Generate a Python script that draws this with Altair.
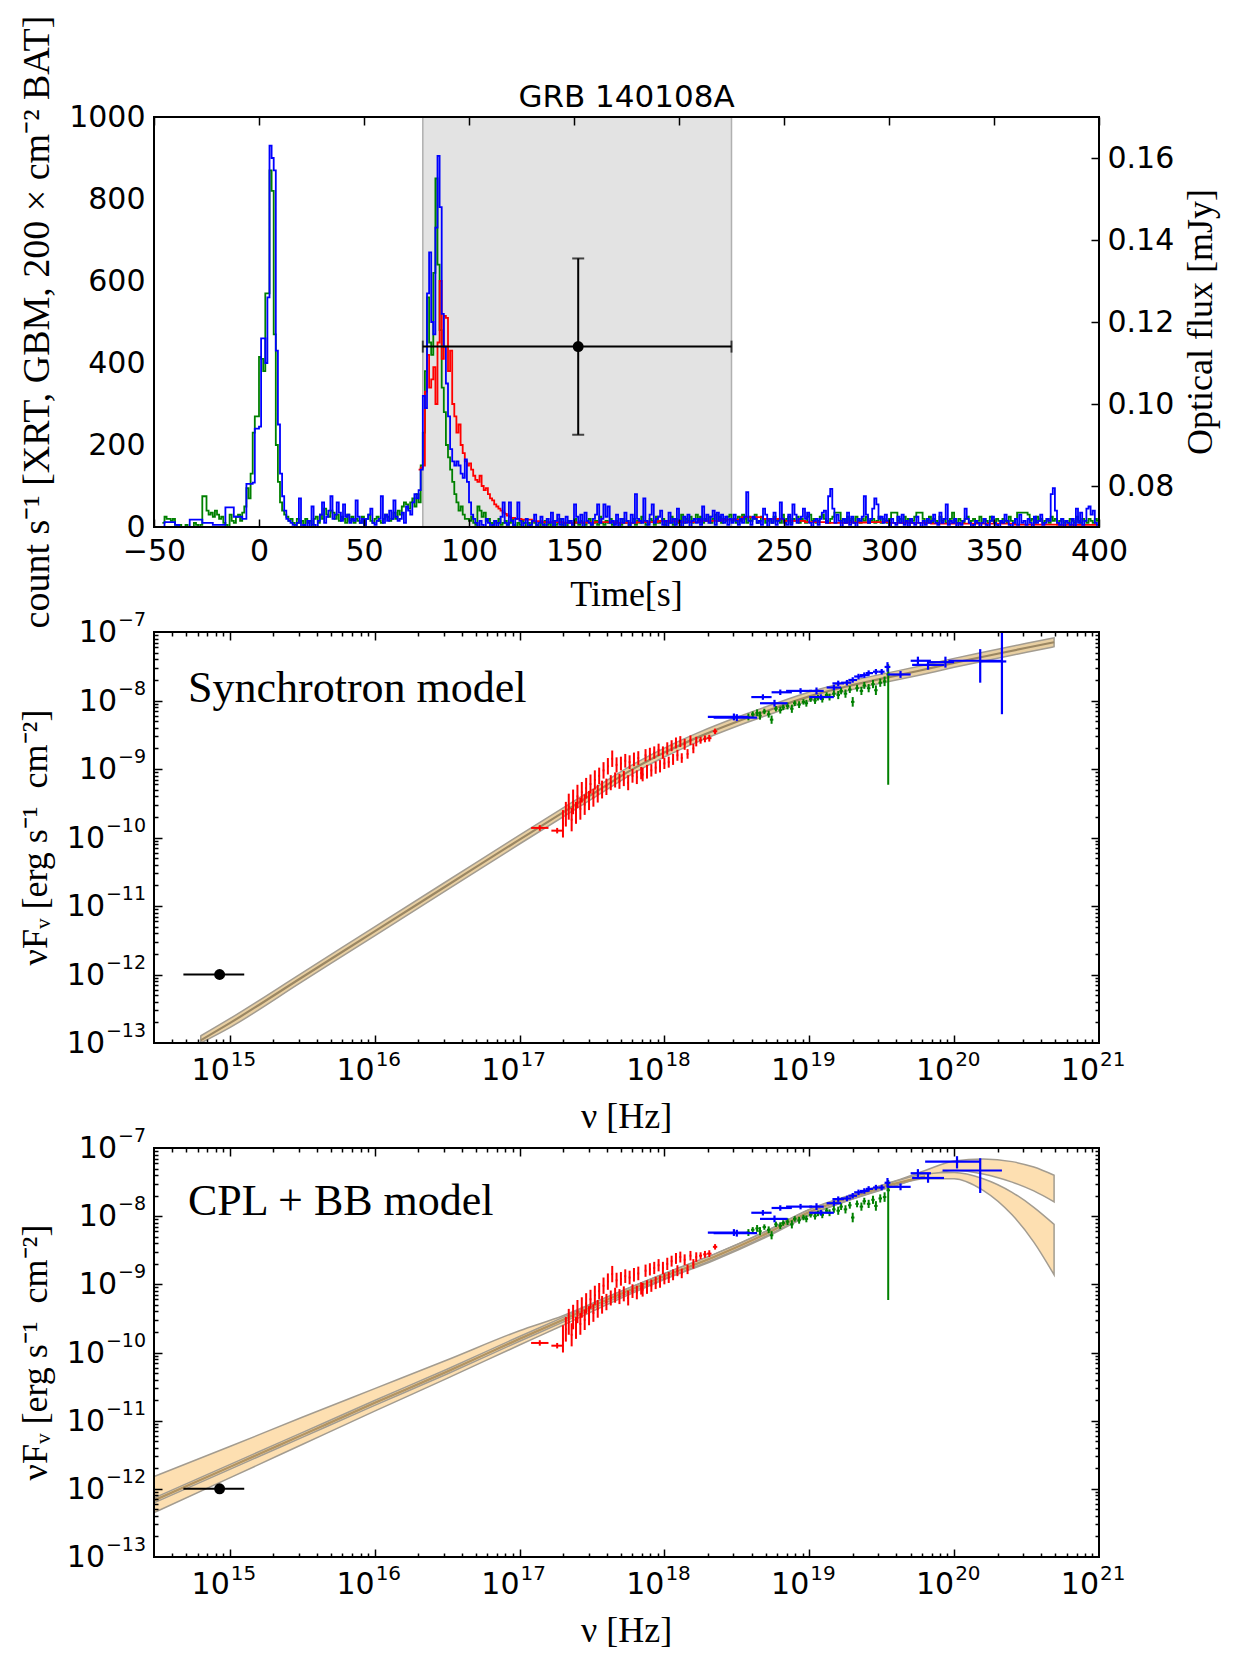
import altair as alt
import numpy as np
import pandas as pd

# ------------------------------------------------------------------
# Light curves of GRB 140108A (1 s bins, first bin starts at t = -46 s)
# ------------------------------------------------------------------
BIN0 = -46

bat_counts = [
    0, 12, 12, 12, 12, 12, 5, 5, 0, 0,
    0, 0, 0, 18, 18, 18, 18, 18, 18, 10,
    10, 10, 10, 10, 5, 5, 5, 5, 5, 5,
    48, 48, 48, 48, 25, 25, 25, 25, 20, 20,
    105, 105, 105, 108, 240, 240, 245, 460, 460, 400,
    560, 930, 900, 870, 430, 250, 130, 75, 40, 20,
    15, 10, 5, 0, 10, 70, 0, 5, 0, 15,
    0, 50, 5, 0, 15, 30, 60, 10, 25, 40,
    75, 20, 30, 60, 35, 15, 55, 25, 30, 10,
    20, 15, 65, 25, 10, 20, 5, 20, 30, 45,
    10, 5, 15, 20, 75, 10, 30, 15, 40, 20,
    65, 25, 15, 20, 35, 10, 50, 40, 30, 60,
    80, 70, 90, 140, 320, 290, 570, 670, 500, 470,
    730, 905, 780, 520, 440, 350, 270, 190, 160, 150,
    160, 150, 130, 120, 165, 110, 60, 30, 20, 10,
    0, 15, 5, 0, 20, 10, 0, 5, 15, 0,
    10, 25, 60, 10, 5, 60, 15, 0, 20, 60,
    15, 0, 10, 20, 0, 5, 15, 30, 0, 10,
    25, 5, 0, 20, 10, 35, 0, 15, 30, 5,
    20, 0, 25, 10, 15, 5, 55, 25, 10, 30,
    0, 35, 15, 10, 5, 20, 30, 55, 10, 20,
    55, 25, 50, 10, 15, 5, 30, 0, 20, 10,
    35, 15, 0, 30, 10, 80, 20, 15, 10, 70,
    15, 5, 30, 55, 10, 20, 25, 40, 5, 15,
    0, 35, 10, 20, 5, 45, 15, 0, 25, 10,
    30, 0, 15, 20, 10, 20, 5, 50, 15, 30,
    10, 25, 40, 5, 35, 15, 30, 10, 25, 5,
    20, 10, 30, 15, 5, 20, 10, 25, 85, 15,
    5, 25, 20, 10, 15, 5, 45, 30, 0, 20,
    10, 35, 5, 15, 60, 20, 10, 5, 30, 5,
    55, 30, 10, 20, 25, 45, 20, 35, 10, 0,
    15, 20, 5, 20, 35, 40, 10, 75, 93, 45,
    10, 30, 15, 0, 20, 10, 35, 5, 25, 10,
    0, 20, 15, 25, 75, 30, 10, 20, 45, 70,
    55, 20, 25, 10, 30, 15, 0, 20, 10, 5,
    25, 10, 30, 5, 15, 0, 20, 10, 5, 25,
    10, 0, 15, 5, 20, 10, 15, 30, 10, 5,
    35, 10, 20, 55, 5, 15, 10, 20, 0, 10,
    5, 15, 45, 20, 10, 0, 5, 15, 10, 0,
    10, 20, 5, 0, 15, 25, 10, 5, 0, 15,
    10, 30, 15, 5, 0, 10, 20, 5, 30, 10,
    15, 5, 20, 10, 0, 25, 10, 15, 30, 5,
    10, 20, 15, 80, 95, 40, 10, 5, 20, 0,
    15, 10, 5, 20, 0, 45, 10, 35, 5, 15,
    45, 50, 30, 40, 10, 5,
]

gbm_counts = [
    10, 25, 20, 20, 15, 20, 5, 0, 5, 0,
    0, 5, 0, 0, 0, 10, 5, 0, 5, 75,
    75, 40, 30, 35, 25, 40, 30, 20, 25, 10,
    5, 0, 30, 15, 10, 25, 30, 15, 35, 50,
    95, 70, 130, 230, 270, 270, 415, 410, 380, 570,
    570, 870, 820, 470, 200, 110, 60, 40, 30, 25,
    15, 20, 10, 5, 20, 10, 15, 5, 20, 10,
    15, 5, 20, 25, 10, 30, 20, 45, 30, 25,
    40, 35, 20, 30, 15, 25, 20, 10, 30, 15,
    25, 10, 20, 15, 10, 25, 5, 20, 30, 15,
    10, 20, 25, 15, 10, 20, 30, 25, 15, 20,
    35, 20, 40, 30, 50, 60, 55, 45, 60, 70,
    50, 80, 60, 150, 230, 380, 560, 450, 420, 620,
    850, 640, 480, 340, 280, 200, 170, 140, 110, 80,
    60, 40, 50, 30, 20, 20, 15, 25, 10, 5,
    50, 40, 25, 35, 15, 20, 10, 5, 15, 10,
    20, 5, 10, 15, 5, 10, 20, 5, 0, 10,
    5, 15, 10, 0, 10, 5, 15, 10, 5, 0,
    10, 5, 15, 5, 10, 0, 15, 5, 10, 20,
    5, 10, 0, 15, 10, 5, 20, 10, 5, 15,
    10, 5, 15, 20, 5, 10, 15, 5, 25, 10,
    5, 15, 10, 20, 5, 10, 15, 10, 5, 20,
    10, 15, 5, 10, 20, 5, 15, 10, 25, 15,
    5, 10, 20, 15, 5, 25, 10, 15, 20, 5,
    15, 10, 25, 5, 20, 10, 15, 30, 10, 20,
    15, 25, 10, 20, 30, 15, 25, 10, 20, 15,
    25, 10, 20, 30, 15, 25, 10, 20, 15, 25,
    30, 15, 20, 10, 25, 15, 30, 20, 10, 25,
    15, 20, 30, 10, 15, 25, 20, 10, 15, 20,
    10, 25, 15, 20, 10, 30, 15, 20, 25, 10,
    20, 15, 25, 10, 20, 15, 10, 25, 30, 15,
    20, 10, 15, 25, 30, 20, 15, 10, 20, 25,
    35, 35, 35, 15, 20, 10, 25, 15, 20, 10,
    25, 15, 10, 20, 15, 25, 10, 15, 20, 10,
    15, 25, 10, 20, 15, 10, 20, 35, 35, 35,
    15, 20, 10, 25, 15, 20, 10, 15, 25, 35,
    35, 35, 20, 10, 15, 25, 10, 20, 15, 10,
    25, 15, 20, 10, 15, 20, 35, 15, 10, 20,
    15, 10, 20, 25, 10, 15, 20, 10, 15, 25,
    10, 20, 15, 10, 25, 15, 10, 20, 15, 10,
    20, 15, 10, 25, 15, 10, 20, 35, 35, 35,
    35, 35, 30, 15, 20, 10, 25, 15, 20, 10,
    15, 20, 10, 25, 15, 20, 10, 15, 20, 10,
    15, 10, 20, 15, 10, 25, 15, 10, 20, 15,
    10, 20, 15, 10, 20, 15,
]

# XRT: bin start times (s) and count rates
xrt_time = list(range(76, 121)) + [
    122, 125, 130, 135, 140, 145, 150, 160, 170, 180, 190, 200, 210,
    220, 230, 240, 250, 260, 270, 280, 290, 300, 320, 340, 360, 380,
]
xrt_counts = [
    140, 145, 150, 330, 420, 340, 360, 390, 300, 450,
    600, 410, 515, 510, 380, 430, 300, 270, 230, 250,
    200, 180, 160, 150, 155, 140, 125, 115, 110, 125,
    100, 90, 95, 80, 70, 65, 55, 50, 45, 40,
    35, 32, 28, 25, 22,
    20, 18, 14, 12, 12, 10, 11, 12, 10, 12, 14, 12, 15,
    18, 24, 20, 15, 12, 10, 11, 12, 10, 8, 8, 6, 5,
]
LC_END = 400

# optical exposure window and flux (mJy)
window_start, window_end = 78, 225
opt_time, opt_flux = 152, 0.114
opt_flux_lo, opt_flux_hi = 0.0925, 0.1355

# ------------------------------------------------------------------
# Broadband SED (log10 of nu [Hz] and of nuF_nu [erg s^-1 cm^-2])
# ------------------------------------------------------------------
optical_lognu, optical_lo, optical_hi, optical_logF = 14.93, 14.68, 15.10, -12.0

xrt_lognu = [
    17.14, 17.26,
    17.30, 17.32, 17.34, 17.36, 17.37, 17.39, 17.40, 17.42, 17.43, 17.45,
    17.46, 17.48, 17.49, 17.51, 17.52, 17.54, 17.55, 17.57, 17.58, 17.60,
    17.61, 17.63, 17.64, 17.66, 17.67, 17.69, 17.70, 17.72, 17.73, 17.75,
    17.76, 17.78, 17.79, 17.81, 17.82, 17.84, 17.85, 17.87, 17.88, 17.90,
    17.91, 17.93, 17.94, 17.96, 17.97, 17.99, 18.00, 18.02, 18.03, 18.05,
    18.06, 18.08, 18.09, 18.11, 18.12, 18.14, 18.16, 18.18, 18.20, 18.22,
    18.25, 18.28, 18.31, 18.35,
]
xrt_logF = [
    -9.86, -9.90,
    -9.80, -9.66, -9.55, -9.74, -9.48, -9.64, -9.40, -9.58, -9.34, -9.52,
    -9.28, -9.46, -9.22, -9.42, -9.16, -9.36, -9.10, -9.30, -9.02, -9.26,
    -8.96, -9.20, -8.85, -9.16, -8.94, -9.18, -8.92, -9.14, -8.88, -9.20,
    -8.90, -9.10, -8.86, -9.12, -8.84, -9.06, -9.08, -8.80, -9.04, -8.78,
    -9.02, -8.76, -8.98, -8.72, -8.96, -8.76, -8.92, -8.70, -8.90, -8.66,
    -8.86, -8.62, -8.80, -8.60, -8.84, -8.64, -8.78, -8.58, -8.70, -8.60,
    -8.58, -8.56, -8.55, -8.45,
]
xrt_err = [
    0.04, 0.04,
    0.20, 0.18, 0.19, 0.17, 0.18, 0.16, 0.17, 0.16, 0.15, 0.15,
    0.15, 0.14, 0.14, 0.13, 0.14, 0.13, 0.12, 0.13, 0.12, 0.12,
    0.12, 0.11, 0.12, 0.11, 0.11, 0.11, 0.10, 0.11, 0.10, 0.11,
    0.10, 0.10, 0.10, 0.10, 0.10, 0.09, 0.10, 0.09, 0.10, 0.09,
    0.09, 0.09, 0.09, 0.09, 0.09, 0.09, 0.08, 0.09, 0.08, 0.08,
    0.08, 0.08, 0.08, 0.08, 0.07, 0.08, 0.07, 0.07, 0.07, 0.07,
    0.05, 0.05, 0.05, 0.04,
]
XRT_HALF = 0.006
xrt_halfwidth = [0.06, 0.04] + [XRT_HALF] * 60 + [0.010, 0.012, 0.015, 0.015]

nai_lognu = [
    18.58, 18.61, 18.64, 18.66, 18.69, 18.72, 18.74, 18.77, 18.80, 18.82,
    18.85, 18.88, 18.90, 18.93, 18.96, 18.98, 19.01, 19.04, 19.06, 19.09,
    19.12, 19.14, 19.17, 19.20, 19.22, 19.25, 19.28, 19.30, 19.33, 19.36,
    19.38, 19.41, 19.44, 19.46, 19.49, 19.52, 19.545,
]
nai_logF = [
    -8.24, -8.20, -8.18, -8.22, -8.16, -8.20, -8.28, -8.12, -8.14, -8.10,
    -8.08, -8.12, -8.04, -8.06, -8.02, -8.04, -7.98, -8.00, -7.96, -7.98,
    -7.92, -7.95, -7.90, -7.92, -7.86, -7.90, -7.84, -8.02, -7.82, -7.86,
    -7.78, -7.82, -7.76, -7.85, -7.74, -7.72, -7.62,
]
nai_err_lo = [
    0.05, 0.04, 0.05, 0.06, 0.04, 0.05, 0.06, 0.04, 0.05, 0.04,
    0.05, 0.06, 0.04, 0.05, 0.04, 0.05, 0.04, 0.05, 0.04, 0.05,
    0.04, 0.05, 0.05, 0.06, 0.05, 0.06, 0.05, 0.07, 0.05, 0.06,
    0.05, 0.06, 0.06, 0.07, 0.06, 0.07, 1.61,
]
nai_err_hi = [
    0.05, 0.04, 0.05, 0.06, 0.04, 0.05, 0.06, 0.04, 0.05, 0.04,
    0.05, 0.06, 0.04, 0.05, 0.04, 0.05, 0.04, 0.05, 0.04, 0.05,
    0.04, 0.05, 0.05, 0.06, 0.05, 0.06, 0.05, 0.07, 0.05, 0.06,
    0.05, 0.06, 0.06, 0.07, 0.06, 0.07, 0.15,
]
NAI_HALF = 0.012

bgo_lognu = [18.48, 18.50, 18.68, 18.76, 18.80, 18.94, 19.05, 19.08, 19.17,
             19.20, 19.26, 19.30, 19.34, 19.38, 19.41, 19.46, 19.50, 19.54]
bgo_lo = [18.30, 18.34, 18.60, 18.66, 18.74, 18.84, 19.00, 19.00, 19.12,
          19.16, 19.22, 19.27, 19.31, 19.35, 19.39, 19.44, 19.48, 19.52]
bgo_hi = [18.58, 18.64, 18.74, 18.85, 18.88, 19.02, 19.10, 19.17, 19.22,
          19.24, 19.29, 19.33, 19.37, 19.41, 19.44, 19.48, 19.52, 19.56]
bgo_logF = [-8.24, -8.25, -7.95, -8.04, -7.88, -7.86, -7.86, -7.95, -7.81,
            -7.75, -7.74, -7.70, -7.65, -7.63, -7.60, -7.58, -7.58, -7.51]
bgo_err = [0.05, 0.05, 0.04, 0.05, 0.04, 0.04, 0.05, 0.04, 0.04,
           0.04, 0.04, 0.04, 0.04, 0.04, 0.04, 0.04, 0.04, 0.07]

# high-energy points unfolded with each model
sync_he_lognu = [19.63, 19.75, 19.82, 19.94, 20.18, 20.33]
sync_he_lo = [19.54, 19.70, 19.71, 19.82, 19.96, 20.18]
sync_he_hi = [19.70, 19.84, 19.93, 20.00, 20.33, 20.36]
sync_he_logF = [-7.62, -7.42, -7.48, -7.44, -7.42, -7.43]
sync_he_err_lo = [0.05, 0.06, 0.07, 0.08, 0.32, 0.77]
sync_he_err_hi = [0.05, 0.06, 0.07, 0.08, 0.17, 0.60]

cpl_he_lognu = [19.63, 19.75, 19.82, 20.02, 20.18]
cpl_he_lo = [19.54, 19.70, 19.71, 19.80, 19.92]
cpl_he_hi = [19.70, 19.84, 19.93, 20.18, 20.33]
cpl_he_logF = [-7.57, -7.37, -7.44, -7.20, -7.33]
cpl_he_err_lo = [0.05, 0.06, 0.07, 0.10, 0.33]
cpl_he_err_hi = [0.05, 0.06, 0.07, 0.08, 0.18]

# synchrotron model: best-fit curve and half-width of its uncertainty band
sync_lognu = [14.80, 15.00, 15.50, 16.00, 16.50, 17.00, 17.50, 17.80, 18.00, 18.25,
              18.50, 18.75, 19.00, 19.25, 19.50, 19.75, 20.00, 20.25, 20.50, 20.69]
sync_logF = [-12.96, -12.71, -12.04, -11.37, -10.70, -10.03, -9.37, -8.98, -8.76, -8.52,
             -8.31, -8.12, -7.94, -7.80, -7.68, -7.57, -7.45, -7.34, -7.23, -7.15]
SYNC_HALF = 0.065

# CPL+BB model: two uncertainty bands and the best-fit curve
cpl_lognu = [14.477, 15.0, 15.5, 16.0, 16.5, 17.0, 17.3, 17.6, 18.0, 18.34,
             18.7, 19.0, 19.3, 19.57, 19.8, 20.0, 20.2, 20.4, 20.55, 20.69]
bandA_lo = [-12.35, -11.84, -11.35, -10.86, -10.38, -9.89, -9.60, -9.30, -8.93, -8.65,
            -8.31, -7.99, -7.75, -7.57, -7.42, -7.33, -7.38, -7.50, -7.63, -7.79]
bandA_hi = [-11.82, -11.38, -10.95, -10.53, -10.11, -9.68, -9.46, -9.19, -8.84, -8.56,
            -8.22, -7.90, -7.68, -7.50, -7.33, -7.19, -7.16, -7.20, -7.28, -7.40]
bandB_lo = [-12.205, -11.715, -11.245, -10.775, -10.315, -9.835, -9.555, -9.265, -8.915, -8.635,
            -8.295, -7.975, -7.745, -7.565, -7.45, -7.45, -7.62, -7.98, -8.38, -8.86]
bandB_hi = [-12.135, -11.645, -11.175, -10.705, -10.245, -9.765, -9.485, -9.195, -8.845, -8.565,
            -8.225, -7.905, -7.685, -7.505, -7.38, -7.36, -7.45, -7.65, -7.87, -8.12]
cpl_best = [-12.17, -11.68, -11.21, -10.74, -10.28, -9.80, -9.52, -9.23, -8.88, -8.60,
            -8.26, -7.94, -7.715, -7.535, -7.415]

# text
TITLE = "GRB 140108A"
LC_XLABEL = "Time[s]"
LC_YLABEL = "count s\u207b\u00b9 [XRT, GBM, 200 \u00d7 cm\u207b\u00b2 BAT]"
LC_Y2LABEL = "Optical flux [mJy]"
SED_XLABEL = "\u03bd [Hz]"
SED_YLABEL = "\u03bdF\u1d65 [erg s\u207b\u00b9\u2002cm\u207b\u00b2]"
MODEL_NAMES = ["Synchrotron model", "CPL + BB model"]

# ------------------------------------------------------------------
# Layout and style
# ------------------------------------------------------------------
W, H = 1236, 1665
X0, X1 = 154, 1099
LC = (117, 527)
SYNC = (632, 1043)
CPL = (1148, 1557)

SERIF = "Liberation Serif"
SANS = "DejaVu Sans"
TICK_FS = 30
SUP_FS = 19
RED, GREEN, BLUE = "#ff0000", "#008000", "#0000ff"
BAND_FILL = "#fddfb1"
BAND_EDGE = "#a39c90"
MINUS = "\u2212"


def bottom_at(y):
    return y - H


def top_at(y):
    return -y


def left_at(x):
    return -x


def right_at(x):
    return x - W


# scales --------------------------------------------------------------
def s_time():
    return alt.Scale(domain=[-50, 400], range=[X0, X1], nice=False, zero=False, clamp=True)


def s_counts():
    return alt.Scale(domain=[0, 1000], range=[LC[1], LC[0]], nice=False, zero=False, clamp=True)


def s_opt():
    return alt.Scale(domain=[0.07, 0.17], range=[LC[1], LC[0]], nice=False, zero=False)


def s_nu():
    return alt.Scale(type="log", domain=[3e14, 1e21], range=[X0, X1], nice=False, clamp=True)


def s_flux(panel):
    return alt.Scale(type="log", domain=[1e-13, 1e-7], range=[panel[1], panel[0]],
                     nice=False, clamp=True)


def qx(field, scale):
    return alt.X(f"{field}:Q", scale=scale, axis=None)


def qy(field, scale):
    return alt.Y(f"{field}:Q", scale=scale, axis=None)


# helpers ---------------------------------------------------------------
ONE = pd.DataFrame({"k": [0]})


def frame(panel):
    return alt.Chart(ONE).mark_rect(fillOpacity=0, stroke="black", strokeWidth=2).encode(
        x=alt.value(X0), x2=alt.value(X1), y=alt.value(panel[0]), y2=alt.value(panel[1]))


def text(s, x, y, size, font, angle=0, align="left"):
    kw = dict(font=font, fontSize=size, align=align, baseline="alphabetic", color="black")
    if angle:
        kw["angle"] = angle
    return alt.Chart(pd.DataFrame({"s": [s]})).mark_text(**kw).encode(
        x=alt.value(x), y=alt.value(y), text="s:N")


def axis_only(channel, scale, anchor, **kw):
    spec = dict(title=None, grid=False)
    spec.update(kw)
    enc = alt.X if channel == "x" else alt.Y
    return alt.Chart(pd.DataFrame({"v": [anchor]})).mark_point(opacity=0).encode(
        **{channel: enc("v:Q", scale=scale, axis=alt.Axis(**spec))})


def tick_axis(channel, scale, anchor, orient, offset, values, size):
    return axis_only(channel, scale, anchor, orient=orient, offset=offset, values=values,
                     labels=False, domain=False, ticks=True, tickSize=size, tickWidth=1.5,
                     tickColor="black", zindex=2)


def label_axis(channel, scale, anchor, orient, offset, values, pad, **kw):
    return axis_only(channel, scale, anchor, orient=orient, offset=offset, values=values,
                     labels=True, domain=False, ticks=False, labelPadding=pad,
                     labelFont=SANS, labelFontSize=TICK_FS, labelColor="black",
                     labelFlush=False, labelOverlap=False, **kw)


def sup(e):
    return str(e).replace("-", MINUS)


def nu_tick_labels(panel):
    exps = list(range(15, 22))
    df = pd.DataFrame({"v": [10.0 ** e for e in exps], "base": ["10"] * len(exps),
                       "exp": [sup(e) for e in exps]})
    bot = panel[1]
    base = alt.Chart(df).mark_text(font=SANS, fontSize=TICK_FS, align="right",
                                   baseline="alphabetic", color="black").encode(
        x=qx("v", s_nu()), y=alt.value(bot + 37), text="base:N")
    expo = alt.Chart(df).mark_text(font=SANS, fontSize=SUP_FS + 1, align="left", dx=1,
                                   baseline="alphabetic", color="black").encode(
        x=qx("v", s_nu()), y=alt.value(bot + 23), text="exp:N")
    return [base, expo]


def flux_tick_labels(panel):
    out = []
    right = X0 - 8
    # exponents with one and with two digits
    for exps, width in [([-7, -8, -9], 28), ([-10, -11, -12, -13], 40)]:
        df = pd.DataFrame({"v": [10.0 ** e for e in exps], "base": ["10"] * len(exps),
                           "exp": [sup(e) for e in exps]})
        out.append(alt.Chart(df).mark_text(font=SANS, fontSize=TICK_FS, align="right", dy=10,
                                           baseline="alphabetic", color="black").encode(
            x=alt.value(right - width - 1), y=qy("v", s_flux(panel)), text="base:N"))
        out.append(alt.Chart(df).mark_text(font=SANS, fontSize=SUP_FS, align="right", dy=-6,
                                           baseline="alphabetic", color="black").encode(
            x=alt.value(right), y=qy("v", s_flux(panel)), text="exp:N"))
    return out


def error_layers(lognu, nlo, nhi, logF, elo, ehi, color, panel, width=2):
    df = pd.DataFrame({
        "nu": 10.0 ** np.array(lognu),
        "nlo": 10.0 ** np.array(nlo),
        "nhi": 10.0 ** np.array(nhi),
        "f": 10.0 ** np.array(logF),
        "flo": 10.0 ** (np.array(logF) - np.array(elo)),
        "fhi": 10.0 ** (np.array(logF) + np.array(ehi)),
    })
    v = alt.Chart(df).mark_rule(color=color, strokeWidth=width).encode(
        x=qx("nu", s_nu()), y=qy("flo", s_flux(panel)), y2=alt.Y2("fhi"))
    h = alt.Chart(df).mark_rule(color=color, strokeWidth=width).encode(
        x=qx("nlo", s_nu()), x2=alt.X2("nhi"), y=qy("f", s_flux(panel)))
    return [v, h]


def band(lognu, lo, hi, panel, fill, edge):
    df = pd.DataFrame({"nu": 10.0 ** np.array(lognu),
                       "lo": 10.0 ** np.array(lo),
                       "hi": 10.0 ** np.array(hi)})
    return alt.Chart(df).mark_area(interpolate="monotone", fill=fill, fillOpacity=1,
                                   stroke=edge, strokeWidth=1.5).encode(
        x=qx("nu", s_nu()), y=qy("lo", s_flux(panel)), y2=alt.Y2("hi"))


def curve(lognu, logF, panel, color, width):
    df = pd.DataFrame({"nu": 10.0 ** np.array(lognu), "f": 10.0 ** np.array(logF)})
    return alt.Chart(df).mark_line(interpolate="monotone", color=color, strokeWidth=width).encode(
        x=qx("nu", s_nu()), y=qy("f", s_flux(panel)))


layers = []

# ------------------------------------------------------------------
# Panel 1: light curves
# ------------------------------------------------------------------
win_df = pd.DataFrame({"a": [window_start], "b": [window_end]})
layers.append(alt.Chart(win_df).mark_rect(fill="#e3e3e3", stroke="#b0b0b0", strokeWidth=1.5).encode(
    x=qx("a", s_time()), x2=alt.X2("b"), y=alt.value(LC[0]), y2=alt.value(LC[1])))


def steps(times, counts):
    t = list(times[:len(counts)])
    c = list(counts[:len(t)])
    keep = [i for i, ti in enumerate(t) if ti < LC_END]
    t = [t[i] for i in keep] + [LC_END]
    c = [c[i] for i in keep] + [c[keep[-1]]]
    return pd.DataFrame({"t": t, "c": c})


bat_times = BIN0 + np.arange(len(bat_counts))
gbm_times = BIN0 + np.arange(len(gbm_counts))
for df, col in [(steps(gbm_times, gbm_counts), GREEN),
                (steps(xrt_time, xrt_counts), RED),
                (steps(bat_times, bat_counts), BLUE)]:
    layers.append(alt.Chart(df).mark_line(interpolate="step-after", color=col, strokeWidth=1.8).encode(
        x=qx("t", s_time()), y=qy("c", s_counts())))

opt_df = pd.DataFrame({"t": [opt_time], "tlo": [window_start], "thi": [window_end],
                       "f": [opt_flux], "flo": [opt_flux_lo], "fhi": [opt_flux_hi]})
layers += [
    alt.Chart(opt_df).mark_rule(color="black", strokeWidth=2).encode(
        x=qx("tlo", s_time()), x2=alt.X2("thi"), y=qy("f", s_opt())),
    alt.Chart(opt_df).mark_rule(color="black", strokeWidth=2).encode(
        x=qx("t", s_time()), y=qy("flo", s_opt()), y2=alt.Y2("fhi")),
    alt.Chart(opt_df).transform_fold(["tlo", "thi"], as_=["side", "te"]).mark_tick(
        orient="vertical", size=12, thickness=2, color="black").encode(
        x=qx("te", s_time()), y=qy("f", s_opt())),
    alt.Chart(opt_df).transform_fold(["flo", "fhi"], as_=["side", "fe"]).mark_tick(
        orient="horizontal", size=12, thickness=2, color="black").encode(
        x=qx("t", s_time()), y=qy("fe", s_opt())),
    alt.Chart(opt_df).mark_circle(size=120, color="black", opacity=1).encode(
        x=qx("t", s_time()), y=qy("f", s_opt())),
]
layers.append(frame(LC))

time_ticks = list(range(-50, 401, 50))
layers += [
    label_axis("x", s_time(), 0, "bottom", bottom_at(LC[1]), time_ticks, 9),
    tick_axis("x", s_time(), 0, "bottom", bottom_at(LC[0]), time_ticks, 8),
    tick_axis("x", s_time(), 0, "top", top_at(LC[1]), time_ticks, 8),
    label_axis("y", s_counts(), 0, "left", left_at(X0), list(range(0, 1001, 200)), 9,
               format="d"),
    label_axis("y", s_opt(), 0.1, "right", right_at(X1), [0.08, 0.10, 0.12, 0.14, 0.16], 8,
               format=".2f"),
    tick_axis("y", s_opt(), 0.1, "left", left_at(X1), [0.08, 0.10, 0.12, 0.14, 0.16], 8),
]
layers += [
    text(TITLE, (X0 + X1) / 2, 107, 31, SANS, align="center"),
    text(LC_XLABEL, (X0 + X1) / 2, 606, 36, SERIF, align="center"),
    text(LC_YLABEL, 49, (LC[0] + LC[1]) / 2, 38, SERIF, angle=270, align="center"),
    text(LC_Y2LABEL, 1212, (LC[0] + LC[1]) / 2, 36, SERIF, angle=270, align="center"),
]

# ------------------------------------------------------------------
# Panels 2 and 3: SED with model bands
# ------------------------------------------------------------------
nu_major = [10.0 ** e for e in range(15, 21)]
nu_minor = [k * 10.0 ** e for e in range(14, 21) for k in range(2, 10)
            if 3e14 < k * 10.0 ** e < 1e21]
f_major = [10.0 ** e for e in range(-12, -7)]
f_minor = [k * 10.0 ** e for e in range(-13, -7) for k in range(2, 10)]


def sed_panel(panel, name, name_y, model_layers, he):
    out = list(model_layers)
    opt = pd.DataFrame({"nu": [10 ** optical_lognu], "nlo": [10 ** optical_lo],
                        "nhi": [10 ** optical_hi], "f": [10 ** optical_logF]})
    out += [
        alt.Chart(opt).mark_rule(color="black", strokeWidth=2).encode(
            x=qx("nlo", s_nu()), x2=alt.X2("nhi"), y=qy("f", s_flux(panel))),
        alt.Chart(opt).mark_circle(size=120, color="black", opacity=1).encode(
            x=qx("nu", s_nu()), y=qy("f", s_flux(panel))),
    ]
    xrt_lo = [n - w for n, w in zip(xrt_lognu, xrt_halfwidth)]
    xrt_hi = [n + w for n, w in zip(xrt_lognu, xrt_halfwidth)]
    out += error_layers(xrt_lognu, xrt_lo, xrt_hi, xrt_logF, xrt_err, xrt_err, RED, panel)
    nai_lo = [n - NAI_HALF for n in nai_lognu]
    nai_hi = [n + NAI_HALF for n in nai_lognu]
    out += error_layers(nai_lognu, nai_lo, nai_hi, nai_logF, nai_err_lo, nai_err_hi, GREEN, panel)
    out += error_layers(bgo_lognu, bgo_lo, bgo_hi, bgo_logF, bgo_err, bgo_err, BLUE, panel, 2.2)
    out += error_layers(*he, BLUE, panel, 2.2)
    out.append(frame(panel))
    top, bot = panel
    out += [
        tick_axis("x", s_nu(), 1e16, "bottom", bottom_at(top), nu_major, 8),
        tick_axis("x", s_nu(), 1e16, "bottom", bottom_at(top), nu_minor, 4),
        tick_axis("x", s_nu(), 1e16, "top", top_at(bot), nu_major, 8),
        tick_axis("x", s_nu(), 1e16, "top", top_at(bot), nu_minor, 4),
        tick_axis("y", s_flux(panel), 1e-10, "right", right_at(X0), f_major, 8),
        tick_axis("y", s_flux(panel), 1e-10, "right", right_at(X0), f_minor, 4),
        tick_axis("y", s_flux(panel), 1e-10, "left", left_at(X1), f_major, 8),
        tick_axis("y", s_flux(panel), 1e-10, "left", left_at(X1), f_minor, 4),
    ]
    out += nu_tick_labels(panel) + flux_tick_labels(panel)
    out += [
        text(name, 188, name_y, 44, SERIF),
        text(SED_XLABEL, (X0 + X1) / 2, bot + 85, 36, SERIF, align="center"),
        text(SED_YLABEL, 47, (top + bot) / 2, 36, SERIF, angle=270, align="center"),
    ]
    return out


sync_lo = [v - SYNC_HALF for v in sync_logF]
sync_hi = [v + SYNC_HALF for v in sync_logF]
sync_models = [
    band(sync_lognu, sync_lo, sync_hi, SYNC, "#e8cfa2", BAND_EDGE),
    curve(sync_lognu, sync_logF, SYNC, "#9b8763", 2.2),
]
cpl_models = [
    band(cpl_lognu, bandA_lo, bandA_hi, CPL, BAND_FILL, BAND_EDGE),
    band(cpl_lognu, bandB_lo, bandB_hi, CPL, BAND_FILL, BAND_EDGE),
    curve(cpl_lognu[:len(cpl_best)], cpl_best, CPL, "#b39462", 2.4),
]

layers += sed_panel(SYNC, MODEL_NAMES[0], 702, sync_models,
                    (sync_he_lognu, sync_he_lo, sync_he_hi, sync_he_logF,
                     sync_he_err_lo, sync_he_err_hi))
layers += sed_panel(CPL, MODEL_NAMES[1], 1215, cpl_models,
                    (cpl_he_lognu, cpl_he_lo, cpl_he_hi, cpl_he_logF,
                     cpl_he_err_lo, cpl_he_err_hi))

chart = (
    alt.layer(*layers)
    .resolve_scale(x="independent", y="independent")
    .resolve_axis(x="independent", y="independent")
    .properties(width=W, height=H, autosize=alt.AutoSizeParams(type="none"),
                padding=0, background="white")
    .configure_view(strokeWidth=0)
)

chart.save("out.html", embed_options={"renderer": "svg", "actions": False})
